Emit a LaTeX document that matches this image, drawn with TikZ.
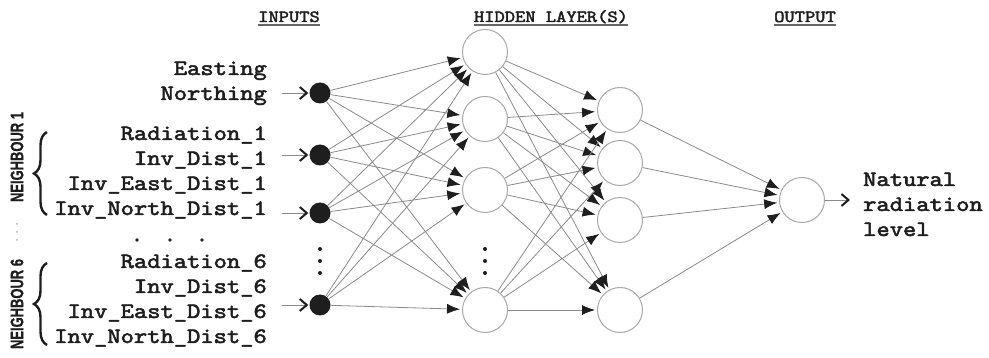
\documentclass[tikz,border=0pt]{standalone}
\usepackage{fontspec}
\usepackage{graphicx}
\usetikzlibrary{arrows.meta,decorations.pathreplacing}
\newfontfamily\nbfont{Liberation Sans}[FakeBold=1]
\newfontfamily\courb{lmmono10-regular.otf}[FakeBold=2.2]
\definecolor{wire}{HTML}{8A8A8A}
\definecolor{ring}{HTML}{A8A8A8}
\definecolor{ink}{HTML}{1E1E1E}
% Courier-like bold typewriter text, widened to Courier proportions
\newcommand{\cbig}[1]{\scalebox{1.15}[1]{\courb\fontsize{22}{25}\selectfont #1}}
\newcommand{\csmall}[1]{\scalebox{1.15}[1]{\courb\fontsize{17}{19}\selectfont #1}}
\newcommand{\nblabel}[1]{\scalebox{0.72}[1]{\nbfont\bfseries\fontsize{18}{18}\selectfont #1}}
\begin{document}
\begin{tikzpicture}[x=1pt,y=-1pt,
  innode/.style={circle, fill=ink, draw=none, minimum size=21pt, inner sep=0pt},
  unit/.style={circle, draw=ring, line width=1pt, fill=white, minimum size=45pt, inner sep=0pt},
  link/.style={draw=wire, line width=0.8pt, shorten >=2pt,
               -{Latex[length=13pt,width=10pt,color=ink]}},
  feed/.style={draw=wire, line width=0.9pt, shorten >=1pt,
               -{Straight Barb[length=7pt,width=12pt,line width=2pt,color=ink]}},
  lbl/.style={anchor=base east, inner sep=0pt, text=ink},
  ttl/.style={anchor=base, inner sep=0pt, text=ink},
  uline/.style={draw=black!60, line width=1.2pt},
  brc/.style={draw=ink, line width=2.4pt, decorate,
              decoration={brace, amplitude=13pt}},
  nb/.style={rotate=90, inner sep=0pt, text=ink}
]
\useasboundingbox (0,0) rectangle (989,358);

% column headings
\node[ttl] (tin)  at (289,22) {\csmall{INPUTS}};
\node[ttl] (thid) at (551,22) {\csmall{HIDDEN LAYER(S)}};
\node[ttl] (tout) at (805,22) {\csmall{OUTPUT}};
\foreach \t in {tin,thid,tout}
  \draw[uline] ([yshift=-3pt]\t.base west) -- ([yshift=-3pt]\t.base east);

% input variable names
\node[lbl] (l1)  at (267,75)  {\cbig{Easting}};
\node[lbl] (l2)  at (267,100) {\cbig{Northing}};
\node[lbl] (l3)  at (267,140) {\cbig{Radiation\_1}};
\node[lbl] (l4)  at (267,165) {\cbig{Inv\_Dist\_1}};
\node[lbl] (l5)  at (267,190) {\cbig{Inv\_East\_Dist\_1}};
\node[lbl] (l6)  at (267,215) {\cbig{Inv\_North\_Dist\_1}};
\node[lbl] (l7)  at (267,268) {\cbig{Radiation\_6}};
\node[lbl] (l8)  at (267,293) {\cbig{Inv\_Dist\_6}};
\node[lbl] (l9)  at (267,318) {\cbig{Inv\_East\_Dist\_6}};
\node[lbl] (l10) at (267,343) {\cbig{Inv\_North\_Dist\_6}};
\foreach \xx in {137,170,202}
  \fill[ink] (\xx,240) circle (1.9pt);

% neighbour groups
\draw[brc] (47,215) -- (47,132);
\draw[brc] (47,345) -- (47,263);
\node[nb] (nb1) at (17,157) {\nblabel{NEIGHBOUR 1}};
\node[nb] (nb6) at (17,304) {\nblabel{NEIGHBOUR 6}};
\foreach \yy in {224,232,240}
  \fill[black!30] (17,\yy) circle (1pt);

% input units
\node[innode] (i1) at (320,93)  {};
\node[innode] (i2) at (320,155) {};
\node[innode] (i3) at (320,213) {};
\node[innode] (i4) at (320,305) {};
\coordinate (f1) at (282,93);
\coordinate (f2) at (282,155);
\coordinate (f3) at (282,213);
\coordinate (f4) at (282,305);
\foreach \k in {1,...,4}
  \draw[feed] (f\k) -- (i\k);

% first hidden layer
\node[unit] (h1) at (485,52)  {};
\node[unit] (h2) at (485,119) {};
\node[unit] (h3) at (485,190) {};
\node[unit] (h4) at (485,310) {};

% second hidden layer
\node[unit] (g1) at (620,110) {};
\node[unit] (g2) at (620,163) {};
\node[unit] (g3) at (620,220) {};
\node[unit] (g4) at (620,310) {};

% output unit
\node[unit] (o) at (802,200) {};

% ellipses for omitted units
\foreach \yy in {249,261,273} {
  \fill[ink] (320,\yy) circle (2pt);
  \fill[ink] (485,\yy) circle (2pt);
}

% weighted connections
\foreach \a in {1,...,4}
  \foreach \b in {1,...,4}
    \draw[link] (i\a) -- (h\b);
\foreach \a in {1,...,4}
  \foreach \b in {1,...,4}
    \draw[link] (h\a) -- (g\b);
\foreach \a in {1,...,4}
  \draw[link] (g\a) -- (o);

% network output
\coordinate (res) at (851,200);
\draw[feed] (o) -- (res);
\node[anchor=base west, inner sep=0pt, text=ink] (r1) at (863,186) {\cbig{Natural}};
\node[anchor=base west, inner sep=0pt, text=ink] (r2) at (863,211) {\cbig{radiation}};
\node[anchor=base west, inner sep=0pt, text=ink] (r3) at (863,236) {\cbig{level}};
\end{tikzpicture}
\end{document}
